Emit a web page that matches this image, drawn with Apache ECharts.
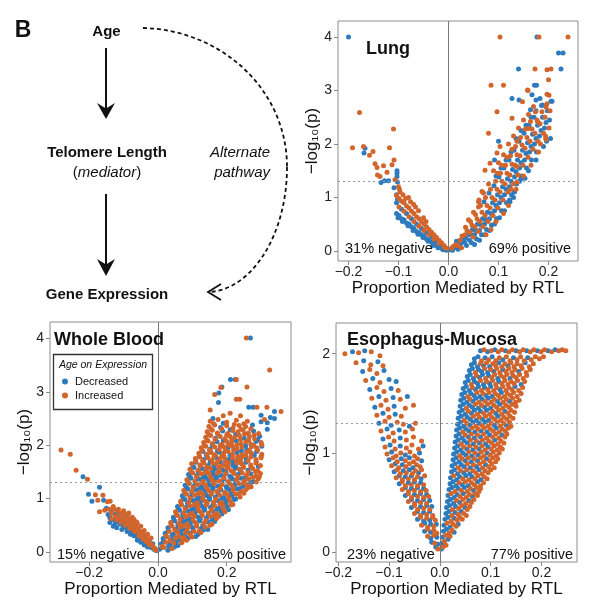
<!DOCTYPE html>
<html><head><meta charset="utf-8">
<script src="https://cdn.jsdelivr.net/npm/echarts@6/dist/echarts.min.js"></script>
<style>html,body{margin:0;padding:0;background:#fff}#c{width:600px;height:614px}</style>
</head><body><div id="c"></div>
<script>
// ---------- DATA ----------
const seriesNames = ['Decreased', 'Increased'];
const panelTitles = ['Lung', 'Whole Blood', 'Esophagus-Mucosa'];
const negLabels = ['31% negative', '15% negative', '23% negative'];
const posLabels = ['69% positive', '85% positive', '77% positive'];
const lungXTicks = [-0.2, -0.1, 0, 0.1, 0.2];
const lungYTicks = [0, 1, 2, 3, 4];
const wbXTicks = [-0.2, 0, 0.2];
const wbYTicks = [0, 1, 2, 3, 4];
const esoXTicks = [-0.2, -0.1, 0, 0.1, 0.2];
const esoYTicks = [0, 1, 2];
const sigLine = 1.301;

const lungDecreased = [
[-.2,4.0],[-.167,1.92],[-.169,1.83],[-.135,1.28],[-.128,1.31],[-.12,1.31],[-.103,1.5],[-.103,1.45],[-.103,1.39],[-.102,1.29],[-.109,1.18],[-.104,1.05],[-.102,.97],
[-.104,.9],[-.104,.7],[-.099,.66],[-.094,.78],[-.094,.6],[-.089,.58],[-.084,.7],[-.084,.52],[-.079,.5],[-.074,.6],[-.074,.45],[-.069,.42],[-.064,.5],[-.064,.36],[-.059,.34],[-.054,.42],[-.054,.3],[-.049,.27],[-.044,.34],[-.044,.22],[-.039,.2],[-.034,.26],[-.034,.16],[-.029,.13],[-.024,.18],[-.024,.1],[-.019,.07],[-.014,.1],[-.014,.05],[-.009,.03],[-.004,.03],[-.004,.01],[-.101,.62],[-.092,.55],[-.081,.47],[-.071,.38],[-.061,.31],[-.051,.25],[-.041,.18],[-.031,.1],[-.021,.06],[-.011,.02],
[.003,.02],[.008,.01],[.012,.06],[.016,.18],[.019,.03],[.022,.09],[.025,.14],[.028,.22],[.032,.16],[.035,.24],[.038,.3],[.036,.1],[.042,.2],[.045,.3],[.048,.4],[.046,.15],[.052,.3],[.055,.38],[.058,.5],[.056,.22],[.062,.38],[.065,.48],[.068,.6],[.066,.3],[.072,.5],[.075,.58],[.078,.72],[.076,.4],[.071,.92],[.082,.6],[.085,.7],[.088,.9],[.086,.48],[.081,1.08],[.092,.75],[.095,.85],[.098,1.05],[.096,.6],[.091,1.22],[.102,.9],[.105,1.0],[.108,1.2],[.106,.75],[.101,1.38],[.112,1.05],[.115,1.15],[.118,1.35],[.116,.9],[.111,1.55],[.122,1.2],[.125,1.3],[.128,1.52],[.126,1.05],[.121,1.7],[.132,1.38],[.135,1.48],[.138,1.7],[.136,1.25],[.131,1.88],[.142,1.55],[.145,1.65],[.148,1.88],[.146,1.4],[.141,2.05],[.152,1.7],[.155,1.82],[.158,2.02],[.156,1.55],[.151,2.2],[.162,1.85],[.165,1.95],[.168,2.18],[.166,1.7],[.161,2.35],[.172,2.0],[.175,2.1],[.178,2.35],[.176,1.85],[.171,2.5],[.182,2.15],[.185,2.25],[.188,2.5],[.186,2.72],[.192,2.3],[.195,2.4],[.198,2.62],[.196,2.05],[.202,2.45],[.205,2.8],[.204,2.1],[.153,1.36],[.123,.92],
[.052,.12],[.062,.2],[.072,.3],[.082,.38],[.092,.5],[.102,.62],[.112,.75],[.122,.95],[.132,1.1],[.142,1.3],[.115,1.7],[.105,1.55],[.095,1.4],[.125,1.85],[.135,2.1],[.145,2.25],[.155,2.35],[.165,2.5],[.175,2.62],[.183,2.85],[.13,1.0],[.145,1.35],[.16,1.5],[.175,1.7],[.19,1.95],
[.177,4.0],[.22,3.7],[.229,3.7],[.225,3.4],[.14,3.4],[.172,3.1],[.176,3.1],[.167,2.92],[.207,2.8],[.127,2.85],[.141,2.82],[.175,2.82],[.188,2.73],[.164,2.64],[.1,2.05],[.092,1.7]
];
const lungIncreased = [
[-.178,2.59],[-.192,1.93],[-.17,1.95],[-.158,1.79],[-.151,1.86],[-.11,2.28],[-.118,1.93],[-.147,1.63],[-.143,1.56],[-.13,1.59],[-.123,1.47],[-.113,1.61],[-.109,1.7],[-.142,1.42],[-.137,1.39],[-.107,1.33],[-.1,1.2],[-.098,1.15],
[-.104,1.04],[-.099,.98],[-.099,.82],[-.094,.93],[-.089,.9],[-.089,.74],[-.084,.84],[-.079,.8],[-.079,.64],[-.074,.74],[-.069,.7],[-.069,.55],[-.064,.64],[-.059,.6],[-.059,.46],[-.054,.54],[-.049,.5],[-.049,.38],[-.044,.45],[-.039,.4],[-.039,.3],[-.034,.35],[-.029,.3],[-.029,.22],[-.024,.25],[-.019,.2],[-.019,.14],[-.014,.15],[-.009,.1],[-.009,.07],[-.004,.05],[-.097,1.1],[-.091,1.05],[-.086,.98],[-.076,.92],[-.066,.82],[-.06,.75],[-.05,.62],[-.045,.55],[-.07,.87],[-.08,1.0],
[.006,.05],[.009,.08],[.014,.12],[.018,.1],[.023,.2],[.027,.28],[.026,.06],[.033,.3],[.037,.38],[.034,.44],[.043,.35],[.047,.48],[.044,.55],[.049,.26],[.053,.45],[.057,.6],[.054,.68],[.059,.36],[.063,.55],[.067,.72],[.064,.85],[.069,.45],[.061,.95],[.073,.66],[.077,.85],[.074,1.0],[.079,.55],[.083,.8],[.087,1.0],[.084,1.15],[.089,.66],[.093,.95],[.097,1.15],[.094,1.3],[.099,.8],[.098,1.45],[.103,1.1],[.107,1.3],[.104,1.45],[.109,.95],[.107,1.6],[.113,1.25],[.117,1.45],[.114,1.6],[.119,1.1],[.117,1.75],[.123,1.42],[.127,1.62],[.124,1.78],[.129,1.25],[.127,1.9],[.133,1.6],[.137,1.8],[.134,1.95],[.139,1.42],[.137,2.05],[.143,1.78],[.147,1.98],[.144,2.12],[.149,1.6],[.153,1.92],[.157,2.12],[.154,2.28],[.159,1.75],[.163,2.05],[.167,2.28],[.164,2.42],[.169,1.9],[.173,2.2],[.177,2.45],[.174,2.6],[.179,2.05],[.183,2.38],[.187,2.6],[.184,2.0],[.193,2.5],[.197,2.75],[.194,2.15],[.203,2.62],[.201,2.3],
[.04,.58],[.05,.72],[.06,.82],[.07,1.08],[.08,1.25],[.09,1.5],[.1,1.65],[.11,1.8],[.12,2.0],[.13,2.15],[.14,2.3],[.15,2.45],[.16,2.55],[.17,2.7],[.11,.7],[.12,.85],[.135,1.15],[.15,1.4],[.165,1.6],[.18,1.85],[.195,2.1],[.125,1.15],[.085,.4],[.095,.55],[.075,.3],
[.103,4.0],[.181,4.0],[.239,4.0],[.173,3.4],[.205,3.4],[.085,3.1],[.11,3.1],[.2,3.2],[.159,3.0],[.197,2.93],[.201,2.91],[.148,2.79],[.195,2.69],[.097,2.6],[.16,2.29],[.08,2.2],[.127,2.48],[.19,2.2],[.195,2.09],[.178,2.42],[.103,1.95],[.097,1.83],[.083,1.64],[.073,1.51],[.137,1.58],[.137,1.29],[.067,1.11],[.06,.92],[.197,3.39],[.158,3.01]
];

const wbDecreased = [
[-.218,1.41],[-.17,1.21],[-.202,1.08],[-.192,.95],[-.158,.97],[-.15,.82],[-.145,.7],[-.14,.64],[-.135,.77],[-.13,.6],[-.125,.7],[-.12,.57],[-.115,.66],[-.11,.52],[-.105,.62],[-.1,.49],[-.096,.57],[-.092,.45],[-.088,.53],[-.084,.41],[-.08,.48],[-.076,.37],[-.072,.44],[-.068,.32],[-.064,.38],[-.06,.28],[-.056,.33],[-.052,.23],[-.048,.29],[-.044,.19],[-.04,.24],[-.036,.15],[-.032,.2],[-.028,.12],[-.024,.15],[-.02,.08],[-.016,.1],[-.012,.05],[-.008,.06],[-.004,.02],[-.09,.66],[-.075,.56],[-.065,.46],[-.1,.72],[-.118,.74],[-.11,.6],
[-.13,.48],[-.12,.45],[-.105,.42],[-.09,.38],[-.08,.33],[-.07,.3],[-.06,.22],[-.05,.18],[-.04,.13],[-.03,.09],[-.14,.55],[-.125,.52],[-.095,.47],[-.085,.6],[-.075,.5],[-.06,.42],[-.048,.36],[-.035,.3],[-.025,.22],[-.015,.15],
[.005,.05],[.029,.03],[.01,.15],[.034,.13],[.058,.12],[.015,.25],[.039,.23],[.063,.22],[.087,.25],[.021,.35],[.045,.33],[.069,.32],[.093,.35],[.117,.33],[.029,.45],[.053,.43],[.077,.42],[.101,.45],[.125,.43],[.145,.42],
[.049,.58],[.073,.565],[.097,.57],[.121,.58],[.145,.565],[.165,.57],[.045,.65],[.069,.63],[.093,.62],[.117,.65],[.141,.63],[.165,.62],[.063,.78],[.087,.765],[.111,.77],[.135,.78],[.159,.765],[.183,.77],
[.057,.85],[.081,.83],[.105,.82],[.129,.85],[.153,.83],[.177,.82],[.201,.85],[.078,.98],[.102,.965],[.126,.97],[.15,.98],[.174,.965],[.198,.97],[.222,.98],
[.071,1.05],[.095,1.03],[.119,1.02],[.143,1.05],[.167,1.03],[.191,1.02],[.215,1.05],[.087,1.18],[.111,1.165],[.135,1.17],[.159,1.18],[.183,1.165],[.207,1.17],[.231,1.18],
[.079,1.25],[.103,1.23],[.127,1.22],[.151,1.25],[.175,1.23],[.199,1.22],[.223,1.25],[.247,1.23],[.096,1.38],[.12,1.365],[.144,1.37],[.168,1.38],[.192,1.365],[.216,1.37],[.24,1.38],[.278,1.32],
[.089,1.45],[.113,1.43],[.137,1.42],[.161,1.45],[.185,1.43],[.209,1.42],[.233,1.45],[.27,1.465],[.105,1.58],[.129,1.565],[.165,1.55],[.189,1.53],[.225,1.57],[.262,1.53],
[.11,1.68],[.146,1.62],[.182,1.68],[.218,1.62],[.256,1.68],[.133,1.73],[.169,1.77],[.205,1.73],[.256,1.75],[.131,1.88],[.179,1.87],[.23,1.865],[.287,1.88],
[.152,1.93],[.204,1.95],[.258,1.92],[.302,1.98],[.172,2.065],[.228,2.08],[.285,2.07],[.167,2.13],[.251,2.13],[.296,2.17],[.188,2.265],[.278,2.265],[.182,2.33],[.275,2.38],[.3,2.44],[.318,2.42],
[.031,.11],[.048,.09],[.016,.2],[.052,.19],[.041,.31],[.079,.3],[.11,.29],[.03,.4],[.066,.39],[.103,.4],[.132,.41],[.058,.51],[.094,.5],[.13,.49],[.046,.6],[.083,.59],[.123,.61],[.158,.6],
[.072,.71],[.108,.7],[.146,.69],[.186,.71],[.06,.8],[.098,.79],[.136,.81],[.172,.8],[.205,.79],[.086,.91],[.123,.9],[.16,.89],[.197,.91],[.074,1.0],[.113,.99],[.15,1.01],[.186,1.0],[.226,.99],
[.098,1.11],[.137,1.1],[.175,1.09],[.213,1.11],[.083,1.2],[.122,1.19],[.161,1.21],[.2,1.2],[.239,1.19],[.108,1.31],[.148,1.3],[.186,1.29],[.226,1.31],[.27,1.3],
[.093,1.4],[.132,1.39],[.172,1.41],[.212,1.4],[.252,1.39],[.117,1.51],[.158,1.5],[.198,1.49],[.24,1.51],[.102,1.6],[.163,1.6],[.226,1.6],[.292,1.6],[.152,1.69],[.218,1.69],[.141,1.81],[.21,1.81],[.28,1.81],
[.173,1.89],[.243,1.89],[.158,2.01],[.255,1.99],[.19,2.09],[.29,2.1],[.226,2.2],[.21,2.29],[.19,2.41],
[.269,4.01],[.211,3.23],[.225,3.23],[.186,3.09],[.177,2.98],[.176,2.8],[.264,2.71],[.277,2.71],[.339,2.63],[.327,2.52],[.339,2.5],[.16,2.5],[.318,2.3],[.3,2.56]
];
const wbIncreased = [
[-.282,1.91],[-.255,1.83],[-.238,1.53],[-.205,1.36],[-.182,1.07],[-.175,.97],[-.16,1.06],[-.17,.75],[-.147,.94],[-.139,.95],[-.155,.78],[-.142,.8],[-.135,.72],[-.128,.8],[-.122,.67],[-.117,.76],[-.112,.64],[-.107,.72],[-.102,.6],[-.098,.69],[-.094,.57],[-.09,.63],[-.086,.53],[-.082,.59],[-.078,.48],[-.074,.54],[-.07,.43],[-.066,.49],[-.062,.39],[-.058,.43],[-.054,.34],[-.05,.38],[-.046,.28],[-.042,.32],[-.038,.23],[-.034,.26],[-.03,.18],[-.026,.2],[-.022,.13],[-.018,.14],[-.014,.09],[-.01,.07],[-.006,.03],[-.085,.73],[-.07,.61],[-.06,.53],
[-.135,.62],[-.12,.6],[-.108,.55],[-.095,.5],[-.082,.44],[-.068,.38],[-.055,.3],[-.045,.25],[-.035,.2],[-.025,.14],[-.13,.85],[-.115,.8],[-.1,.77],[-.088,.7],[-.075,.65],[-.062,.56],[-.05,.48],[-.04,.4],[-.03,.33],[-.02,.26],
[.017,.08],[.041,.065],[.022,.18],[.046,.165],[.069,.17],[.027,.28],[.051,.265],[.075,.27],[.099,.28],[.033,.38],[.057,.365],[.081,.37],[.105,.38],[.125,.365],[.041,.48],[.065,.465],[.089,.47],[.113,.48],[.137,.465],
[.037,.55],[.061,.53],[.085,.52],[.109,.55],[.133,.53],[.157,.52],[.057,.68],[.081,.665],[.105,.67],[.129,.68],[.153,.665],[.177,.67],[.051,.75],[.075,.73],[.099,.72],[.123,.75],[.147,.73],[.171,.72],[.195,.75],
[.069,.88],[.093,.865],[.117,.87],[.141,.88],[.165,.865],[.189,.87],[.213,.88],[.066,.95],[.09,.93],[.114,.92],[.138,.95],[.162,.93],[.186,.92],[.21,.95],
[.083,1.08],[.107,1.065],[.131,1.07],[.155,1.08],[.179,1.065],[.203,1.07],[.227,1.08],[.239,1.03],[.075,1.15],[.099,1.13],[.123,1.12],[.147,1.15],[.171,1.13],[.195,1.12],[.219,1.15],[.243,1.13],[.255,1.165],
[.091,1.28],[.115,1.265],[.139,1.27],[.163,1.28],[.187,1.265],[.211,1.27],[.235,1.28],[.259,1.265],[.271,1.22],[.084,1.35],[.108,1.33],[.132,1.32],[.156,1.35],[.18,1.33],[.204,1.32],[.228,1.35],[.252,1.33],[.264,1.365],[.292,1.37],
[.101,1.48],[.125,1.465],[.149,1.47],[.173,1.48],[.197,1.465],[.221,1.47],[.245,1.48],[.257,1.43],[.285,1.42],[.298,1.47],[.093,1.55],[.117,1.53],[.141,1.52],[.153,1.57],[.177,1.58],[.201,1.565],[.213,1.52],[.237,1.55],[.249,1.58],[.276,1.565],[.29,1.52],
[.098,1.65],[.122,1.63],[.134,1.665],[.158,1.67],[.17,1.65],[.194,1.63],[.206,1.665],[.23,1.67],[.243,1.65],[.27,1.63],[.285,1.665],[.298,1.62],
[.109,1.75],[.121,1.78],[.145,1.765],[.157,1.72],[.181,1.75],[.193,1.78],[.217,1.765],[.229,1.72],[.242,1.77],[.27,1.78],[.285,1.73],[.3,1.765],
[.119,1.85],[.143,1.83],[.155,1.865],[.167,1.82],[.191,1.85],[.204,1.88],[.217,1.83],[.244,1.82],[.258,1.87],[.272,1.85],[.302,1.83],
[.126,1.95],[.139,1.98],[.165,1.965],[.178,1.92],[.191,1.97],[.217,1.98],[.23,1.93],[.244,1.965],[.272,1.97],[.287,1.95],
[.133,2.05],[.146,2.08],[.159,2.03],[.186,2.02],[.2,2.07],[.214,2.05],[.242,2.03],[.256,2.065],[.27,2.02],[.3,2.05],
[.139,2.15],[.153,2.18],[.181,2.165],[.195,2.12],[.209,2.17],[.223,2.15],[.237,2.18],[.266,2.165],[.281,2.12],
[.143,2.25],[.158,2.28],[.173,2.23],[.203,2.22],[.218,2.27],[.233,2.25],[.248,2.28],[.263,2.23],[.293,2.22],
[.148,2.35],[.165,2.38],[.2,2.365],[.218,2.32],[.236,2.37],[.255,2.35],[.152,2.45],[.175,2.48],[.2,2.43],[.228,2.47],[.26,2.45],
[.012,.1],[.035,.21],[.07,.2],[.083,.22],[.023,.3],[.06,.29],[.094,.32],[.049,.41],[.085,.41],[.12,.39],[.038,.5],[.074,.49],[.112,.51],[.151,.5],[.065,.61],[.102,.6],[.139,.59],[.17,.62],
[.054,.7],[.091,.69],[.128,.71],[.164,.7],[.079,.81],[.116,.8],[.156,.79],[.19,.81],[.067,.9],[.106,.89],[.143,.91],[.18,.9],[.218,.89],[.093,1.01],[.13,1.0],[.169,.99],[.207,1.01],
[.079,1.1],[.117,1.09],[.156,1.11],[.194,1.1],[.235,1.09],[.25,1.1],[.102,1.21],[.141,1.2],[.18,1.19],[.218,1.21],[.262,1.2],[.088,1.3],[.127,1.29],[.167,1.31],[.207,1.3],[.248,1.29],[.286,1.31],
[.112,1.41],[.153,1.4],[.192,1.39],[.232,1.41],[.276,1.4],[.295,1.41],[.097,1.5],[.137,1.49],[.179,1.51],[.219,1.5],[.262,1.49],[.284,1.5],[.123,1.61],[.142,1.59],[.185,1.61],[.204,1.59],[.248,1.61],[.27,1.59],
[.11,1.7],[.13,1.71],[.174,1.7],[.196,1.71],[.24,1.7],[.262,1.71],[.286,1.69],[.12,1.8],[.163,1.79],[.186,1.8],[.232,1.79],[.255,1.8],[.3,1.79],[.128,1.9],[.15,1.91],[.196,1.9],[.22,1.91],[.266,1.9],[.29,1.91],
[.135,2.0],[.181,1.99],[.205,2.0],[.23,2.01],[.278,2.0],[.302,2.01],[.142,2.1],[.166,2.11],[.215,2.1],[.24,2.11],[.264,2.09],[.148,2.2],[.174,2.21],[.2,2.19],[.252,2.21],[.28,2.19],[.155,2.3],[.185,2.31],[.242,2.3],[.27,2.31],[.162,2.4],[.222,2.39],[.25,2.4],
[.257,4.01],[.325,3.41],[.228,3.23],[.183,3.08],[.259,3.09],[.228,2.86],[.238,2.86],[.288,2.71],[.317,2.71],[.358,2.63],[.165,2.95],[.21,2.6],[.152,2.66],[.19,2.55],[.24,2.55],[.31,2.48]
];

const esoDecreased = [
[-.008,.05],[-.016,.1],[-.004,.08],[-.018,.14],[-.006,.15],[-.03,.21],[-.018,.2],[-.03,.29],[-.018,.28],[-.007,.28],[-.044,.33],[-.032,.31],[-.02,.32],[-.044,.41],[-.032,.4],[-.02,.41],[-.056,.45],[-.038,.46],[-.026,.47],[-.016,.46],[-.056,.53],[-.044,.52],[-.032,.53],[-.02,.52],[-.068,.57],[-.05,.58],[-.038,.59],[-.026,.58],[-.068,.65],[-.056,.64],[-.044,.65],[-.032,.64],[-.08,.69],[-.062,.7],[-.05,.71],[-.038,.7],[-.08,.77],[-.068,.76],[-.056,.77],[-.037,.74],[-.09,.81],[-.072,.82],[-.06,.83],[-.042,.8],[-.088,.89],[-.074,.88],[-.053,.85],[-.1,.93],[-.076,.94],[-.06,.95],[-.036,.92],[-.095,1.01],[-.068,.98],[-.04,1.0],[-.098,1.08],[-.078,1.07],[-.033,1.07],[-.112,1.14],[-.078,1.15],[-.104,1.24],[-.08,1.23],[-.12,1.3],[-.096,1.28],[-.06,1.27],[-.112,1.4],[-.088,1.39],[-.128,1.46],[-.09,1.47],[-.12,1.57],[-.092,1.56],[-.064,1.57],[-.138,1.64],[-.096,1.65],[-.132,1.75],[-.1,1.74],[-.086,1.72],[-.152,1.82],[-.11,1.83],[-.15,1.93],[-.122,1.92],[-.172,2.02],[-.148,2.03],
[.003,.03],[.004,.09],[.005,.15],[.016,.13],[.007,.21],[.013,.23],[.028,.2],[.008,.27],[.02,.25],[.036,.28],[.01,.33],[.016,.35],[.028,.34],[.012,.39],[.018,.41],[.03,.4],[.042,.41],[.013,.45],[.019,.47],[.031,.46],[.049,.45],
[.015,.51],[.021,.53],[.027,.49],[.039,.5],[.057,.52],[.016,.57],[.028,.55],[.034,.58],[.046,.59],[.064,.56],[.018,.63],[.024,.65],[.036,.64],[.048,.65],[.066,.62],[.02,.69],[.026,.71],[.032,.67],[.044,.68],[.056,.67],[.074,.71],
[.021,.75],[.033,.73],[.039,.76],[.051,.77],[.063,.76],[.081,.73],[.023,.81],[.029,.83],[.035,.79],[.047,.8],[.059,.79],[.077,.83],[.024,.87],[.03,.89],[.042,.88],[.048,.86],[.06,.85],[.072,.86],[.09,.88],
[.026,.93],[.032,.95],[.038,.91],[.05,.92],[.062,.91],[.074,.92],[.092,.94],[.027,.99],[.033,1.01],[.045,1.0],[.051,.98],[.063,.97],[.075,.98],[.093,1.0],[.029,1.05],[.035,1.07],[.041,1.03],[.053,1.04],[.065,1.03],[.077,1.04],[.095,1.06],
[.03,1.11],[.036,1.13],[.048,1.12],[.054,1.1],[.066,1.09],[.078,1.1],[.09,1.09],[.108,1.13],[.032,1.17],[.038,1.19],[.044,1.15],[.056,1.16],[.068,1.15],[.08,1.16],[.098,1.18],[.122,1.18],
[.033,1.23],[.039,1.25],[.051,1.24],[.057,1.22],[.069,1.21],[.081,1.22],[.093,1.21],[.111,1.25],[.035,1.29],[.041,1.31],[.047,1.27],[.059,1.28],[.065,1.31],[.077,1.3],[.089,1.31],[.107,1.28],[.131,1.28],
[.036,1.35],[.042,1.37],[.054,1.36],[.06,1.34],[.072,1.33],[.084,1.34],[.096,1.33],[.114,1.37],[.038,1.41],[.044,1.43],[.05,1.39],[.062,1.4],[.068,1.43],[.08,1.42],[.092,1.43],[.11,1.4],[.128,1.42],
[.04,1.47],[.046,1.49],[.058,1.48],[.064,1.46],[.076,1.45],[.088,1.46],[.1,1.45],[.118,1.49],[.041,1.53],[.047,1.55],[.053,1.51],[.065,1.52],[.071,1.55],[.083,1.54],[.095,1.55],[.113,1.52],[.137,1.52],
[.043,1.59],[.049,1.61],[.061,1.6],[.067,1.58],[.079,1.57],[.091,1.58],[.103,1.57],[.121,1.61],[.046,1.65],[.052,1.67],[.058,1.63],[.07,1.64],[.076,1.67],[.088,1.66],[.1,1.67],[.118,1.64],[.148,1.67],
[.05,1.71],[.056,1.73],[.068,1.72],[.074,1.7],[.086,1.69],[.098,1.7],[.116,1.72],[.16,1.69],[.054,1.77],[.06,1.79],[.066,1.75],[.078,1.76],[.084,1.79],[.096,1.78],[.114,1.75],[.138,1.75],
[.058,1.83],[.064,1.85],[.076,1.84],[.082,1.82],[.094,1.81],[.106,1.82],[.124,1.84],[.155,1.82],[.062,1.89],[.068,1.91],[.074,1.87],[.086,1.88],[.098,1.87],[.116,1.91],[.134,1.88],[.168,1.91],
[.068,1.95],[.075,1.97],[.089,1.96],[.103,1.97],[.124,1.94],[.145,1.96],[.173,1.96],[.08,2.03],[.094,2.02],[.108,2.04],[.129,2.03],[.15,2.03],[.171,2.03],[.192,2.03],[.213,2.03],[.227,2.04]
];
const esoIncreased = [
[-.004,.03],[-.01,.09],[-.024,.16],[-.012,.17],[-.024,.23],[-.012,.22],[-.006,.19],[-.036,.27],[-.024,.25],[-.012,.26],[-.038,.35],[-.026,.34],[-.014,.35],[-.009,.32],[-.05,.39],[-.038,.37],[-.026,.38],[-.014,.37],[-.05,.47],[-.044,.43],[-.032,.44],[-.02,.43],[-.062,.51],[-.05,.49],[-.038,.5],[-.026,.49],[-.062,.59],[-.056,.55],[-.044,.56],[-.032,.55],[-.022,.56],[-.074,.63],[-.062,.61],[-.05,.62],[-.038,.61],[-.027,.62],[-.074,.71],[-.068,.67],[-.056,.68],[-.044,.67],[-.032,.68],[-.086,.75],[-.074,.73],[-.062,.74],[-.05,.73],[-.044,.76],[-.03,.77],[-.084,.83],[-.078,.79],[-.066,.8],[-.054,.79],[-.048,.82],[-.036,.83],[-.095,.87],[-.081,.85],[-.067,.86],[-.06,.89],[-.046,.88],[-.039,.86],[-.092,.95],[-.084,.91],[-.068,.92],[-.052,.91],[-.044,.94],[-.104,.99],[-.086,.97],[-.077,1.0],[-.059,1.01],[-.05,.97],[-.108,1.06],[-.088,1.04],[-.066,1.05],[-.055,1.08],[-.042,1.04],[-.101,1.16],[-.09,1.12],[-.066,1.13],[-.052,1.16],[-.036,1.12],[-.116,1.22],[-.092,1.2],[-.068,1.21],[-.054,1.24],[-.108,1.32],[-.084,1.31],[-.072,1.29],[-.048,1.3],[-.124,1.38],[-.1,1.36],[-.076,1.37],[-.116,1.48],[-.102,1.44],[-.068,1.45],[-.052,1.48],[-.134,1.55],[-.106,1.53],[-.078,1.54],[-.124,1.66],[-.11,1.62],[-.082,1.63],[-.146,1.73],[-.118,1.71],[-.138,1.84],[-.124,1.8],[-.165,1.91],[-.136,1.89],[-.112,1.88],[-.187,2.0],[-.16,2.01],[-.135,2.02],[-.118,1.98],
[.006,.05],[.009,.11],[.012,.07],[.011,.17],[.02,.16],[.018,.19],[.024,.22],[.014,.29],[.026,.28],[.032,.26],[.022,.31],[.034,.32],[.039,.35],[.044,.33],[.024,.37],[.036,.38],[.047,.39],[.052,.37],[.025,.43],[.037,.44],[.043,.47],[.054,.43],[.059,.46],
[.033,.52],[.045,.53],[.051,.49],[.062,.5],[.067,.53],[.022,.59],[.04,.56],[.052,.55],[.058,.58],[.069,.59],[.074,.57],[.03,.61],[.042,.62],[.054,.61],[.06,.64],[.072,.65],[.077,.61],[.08,.64],[.038,.7],[.05,.71],[.062,.7],[.068,.68],[.08,.67],[.086,.7],
[.027,.77],[.045,.74],[.057,.73],[.069,.74],[.075,.77],[.087,.76],[.093,.74],[.041,.82],[.053,.83],[.065,.82],[.071,.8],[.083,.79],[.089,.82],[.095,.8],[.1,.83],[.036,.85],[.054,.89],[.066,.88],[.078,.89],[.084,.85],[.096,.86],[.102,.89],[.107,.85],
[.044,.94],[.056,.95],[.068,.94],[.08,.95],[.086,.91],[.098,.92],[.104,.95],[.11,.91],[.114,.94],[.039,.97],[.057,1.01],[.069,1.0],[.081,1.01],[.087,.97],[.099,.98],[.105,1.01],[.111,.97],[.117,1.0],
[.047,1.06],[.059,1.07],[.071,1.06],[.083,1.07],[.089,1.03],[.101,1.04],[.107,1.07],[.113,1.03],[.119,1.06],[.123,1.04],[.042,1.09],[.06,1.13],[.072,1.12],[.084,1.13],[.096,1.12],[.102,1.1],[.114,1.09],[.12,1.12],[.126,1.1],
[.05,1.18],[.062,1.19],[.074,1.18],[.086,1.19],[.092,1.15],[.104,1.16],[.11,1.19],[.116,1.15],[.128,1.16],[.132,1.19],[.045,1.21],[.063,1.25],[.075,1.24],[.087,1.25],[.099,1.24],[.105,1.22],[.117,1.21],[.123,1.24],[.129,1.22],[.135,1.25],
[.053,1.3],[.071,1.27],[.083,1.28],[.095,1.27],[.101,1.3],[.113,1.31],[.119,1.27],[.125,1.3],[.137,1.31],[.14,1.27],[.048,1.33],[.066,1.37],[.078,1.36],[.09,1.37],[.102,1.36],[.108,1.34],[.12,1.33],[.126,1.36],[.132,1.34],[.138,1.37],[.144,1.35],
[.056,1.42],[.074,1.39],[.086,1.4],[.098,1.39],[.104,1.42],[.116,1.43],[.122,1.39],[.134,1.4],[.14,1.43],[.147,1.41],[.052,1.45],[.07,1.49],[.082,1.48],[.094,1.49],[.106,1.48],[.112,1.46],[.124,1.45],[.13,1.48],[.136,1.46],[.142,1.49],[.15,1.47],
[.059,1.54],[.077,1.51],[.089,1.52],[.101,1.51],[.107,1.54],[.119,1.55],[.125,1.51],[.131,1.54],[.143,1.55],[.149,1.51],[.156,1.53],[.055,1.57],[.073,1.61],[.085,1.6],[.097,1.61],[.109,1.6],[.115,1.58],[.127,1.57],[.133,1.6],[.139,1.58],[.145,1.61],[.152,1.57],[.16,1.6],
[.064,1.66],[.082,1.63],[.094,1.64],[.106,1.63],[.112,1.66],[.124,1.67],[.13,1.63],[.136,1.66],[.142,1.64],[.155,1.63],[.163,1.66],[.062,1.69],[.08,1.73],[.092,1.72],[.104,1.73],[.11,1.69],[.122,1.7],[.128,1.73],[.134,1.69],[.14,1.72],[.146,1.7],[.153,1.73],[.167,1.72],
[.072,1.78],[.09,1.75],[.102,1.76],[.108,1.79],[.12,1.78],[.126,1.76],[.132,1.79],[.144,1.78],[.15,1.76],[.157,1.79],[.164,1.75],[.171,1.78],[.07,1.81],[.088,1.85],[.1,1.84],[.112,1.85],[.118,1.81],[.13,1.82],[.136,1.85],[.142,1.81],[.148,1.84],[.162,1.85],[.17,1.81],[.178,1.84],
[.08,1.9],[.092,1.91],[.104,1.9],[.11,1.88],[.122,1.87],[.128,1.9],[.14,1.91],[.146,1.87],[.152,1.9],[.16,1.88],[.176,1.87],[.184,1.9],[.082,1.93],[.096,1.94],[.11,1.93],[.117,1.96],[.131,1.97],[.138,1.93],[.152,1.94],[.159,1.97],[.166,1.93],[.18,1.94],[.188,1.97],[.196,1.95],[.204,1.97],
[.087,2.04],[.101,2.03],[.115,2.02],[.122,2.04],[.136,2.02],[.143,2.04],[.157,2.02],[.164,2.04],[.178,2.02],[.185,2.04],[.199,2.02],[.206,2.04],[.22,2.02],[.234,2.03],[.241,2.04],[.248,2.03]
];

// ---------- CHART ----------
const FF = '"Liberation Sans", Arial, Helvetica, sans-serif';
const BLUE = '#2d7bbd', ORANGE = '#d1652c';
const fmtX = v => (v < 0 ? '\u2212' : '') + Math.abs(v).toFixed(1);
const fmtY = v => String(v);

const grids = [
  {left: 338, top: 21, width: 240, height: 240},
  {left: 50, top: 322, width: 241, height: 240},
  {left: 336, top: 323, width: 241, height: 239}
];
const xRanges = [[-0.221, 0.259], [-0.314, 0.387], [-0.2045, 0.270]];
const yRanges = [[-0.19, 4.3], [-0.19, 4.31], [-0.10, 2.31]];
const xTickSets = [lungXTicks, wbXTicks, esoXTicks];
const yTickSets = [lungYTicks, wbYTicks, esoYTicks];
const panelData = [[lungDecreased, lungIncreased], [wbDecreased, wbIncreased], [esoDecreased, esoIncreased]];

const xAxes = grids.map((g, i) => ({
  type: 'value', gridIndex: i, min: xRanges[i][0], max: xRanges[i][1],
  name: 'Proportion Mediated by RTL', nameLocation: 'middle', nameGap: 14,
  nameTextStyle: {fontSize: 17, color: '#111', fontFamily: FF},
  axisLine: {show: false, onZero: false},
  axisTick: {show: true, length: 4, lineStyle: {color: '#888'}, customValues: xTickSets[i]},
  axisLabel: {customValues: xTickSets[i], formatter: fmtX, fontSize: 14, color: '#222', margin: 4, fontFamily: FF},
  splitLine: {show: false}
}));
const yAxes = grids.map((g, i) => ({
  type: 'value', gridIndex: i, min: yRanges[i][0], max: yRanges[i][1],
  name: '\u2212log\u2081\u2080(p)', nameLocation: 'middle', nameGap: 17, nameRotate: 90,
  nameTextStyle: {fontSize: 17, color: '#111', fontFamily: FF},
  axisLine: {show: false, onZero: false},
  axisTick: {show: true, length: 4, lineStyle: {color: '#888'}, customValues: yTickSets[i]},
  axisLabel: {customValues: yTickSets[i], formatter: fmtY, fontSize: 14, color: '#222', margin: 6, fontFamily: FF},
  splitLine: {show: false}
}));

const series = [];
panelData.forEach((pair, i) => {
  pair.forEach((data, k) => {
    const s = {
      type: 'scatter', name: seriesNames[k], xAxisIndex: i, yAxisIndex: i, data: data,
      symbolSize: 5, itemStyle: {color: k === 0 ? BLUE : ORANGE, opacity: 1},
      silent: true, z: 2, large: false
    };
    if (k === 0) {
      s.markLine = {
        silent: true, symbol: ['none', 'none'], label: {show: false},
        data: [
          {xAxis: 0, lineStyle: {color: '#777', width: 1, type: 'solid'}},
          {yAxis: sigLine, lineStyle: {color: '#999', width: 1, type: [2, 3]}}
        ]
      };
    }
    series.push(s);
  });
});

const txt = (x, y, text, opts) => ({
  type: 'text', z: 50,
  style: Object.assign({x: x, y: y, text: text, fill: '#111', font: '14px ' + FF,
    align: 'left', verticalAlign: 'middle', textAlign: 'left', textVerticalAlign: 'middle'}, opts || {})
});
const center = {align: 'center', textAlign: 'center'};
const right = {align: 'right', textAlign: 'right'};

const graphics = [
  txt(23, 31, 'B', Object.assign({font: 'bold 23px ' + FF}, center)),
  txt(106.5, 32, 'Age', Object.assign({font: 'bold 15px ' + FF}, center)),
  txt(107, 153, 'Telomere Length', Object.assign({font: 'bold 15px ' + FF}, center)),
  {type: 'text', z: 50, style: {x: 107, y: 173, text: '{n|(}{i|mediator}{n|)}', align: 'center', verticalAlign: 'middle', textAlign: 'center', textVerticalAlign: 'middle',
    rich: {n: {font: '15px ' + FF, fill: '#111'}, i: {font: 'italic 15px ' + FF, fill: '#111'}}}},
  txt(107, 295, 'Gene Expression', Object.assign({font: 'bold 15px ' + FF}, center)),
  txt(270, 153, 'Alternate', Object.assign({font: 'italic 15px ' + FF}, right)),
  txt(270, 173, 'pathway', Object.assign({font: 'italic 15px ' + FF}, right)),
  {type: 'line', z: 50, shape: {x1: 106, y1: 48, x2: 106, y2: 112}, style: {stroke: '#111', lineWidth: 2}},
  {type: 'polygon', z: 50, shape: {points: [[106, 119], [97, 103], [106, 108.5], [115, 103]]}, style: {fill: '#111'}},
  {type: 'line', z: 50, shape: {x1: 106, y1: 194, x2: 106, y2: 269}, style: {stroke: '#111', lineWidth: 2}},
  {type: 'polygon', z: 50, shape: {points: [[106, 276], [97, 259], [106, 264.5], [115, 259]]}, style: {fill: '#111'}},
  {type: 'bezierCurve', z: 50, shape: {x1: 143, y1: 28, cpx1: 222, cpy1: 30, cpx2: 287, cpy2: 90, x2: 287, y2: 167},
    style: {stroke: '#111', lineWidth: 1.8, lineDash: [4, 3], fill: null}},
  {type: 'bezierCurve', z: 50, shape: {x1: 287, y1: 167, cpx1: 287, cpy1: 236, cpx2: 251, cpy2: 290, x2: 209, y2: 292},
    style: {stroke: '#111', lineWidth: 1.8, lineDash: [4, 3], fill: null}},
  {type: 'polyline', z: 50, shape: {points: [[221, 284], [208, 292], [221, 300]]}, style: {stroke: '#111', lineWidth: 1.8, fill: null}},
  txt(388, 49, panelTitles[0], Object.assign({font: 'bold 18px ' + FF}, center)),
  txt(54, 340, panelTitles[1], {font: 'bold 18px ' + FF}),
  txt(347, 340, panelTitles[2], {font: 'bold 18px ' + FF}),
  txt(345, 249, negLabels[0], {font: '14.5px ' + FF}),
  txt(571, 249, posLabels[0], Object.assign({font: '14.5px ' + FF}, right)),
  txt(57, 555, negLabels[1], {font: '14.5px ' + FF}),
  txt(286, 555, posLabels[1], Object.assign({font: '14.5px ' + FF}, right)),
  txt(347, 555, negLabels[2], {font: '14.5px ' + FF}),
  txt(573, 555, posLabels[2], Object.assign({font: '14.5px ' + FF}, right)),
  {type: 'rect', z: 3, shape: {x: 53.5, y: 354.5, width: 99, height: 55}, style: {fill: '#fff', stroke: '#333', lineWidth: 1.3}},
  txt(103, 365, 'Age on Expression', Object.assign({font: 'italic 10.5px ' + FF}, center))
];

const chart = echarts.init(document.getElementById('c'), null, {renderer: 'canvas'});
chart.setOption({
  animation: false,
  backgroundColor: '#fff',
  textStyle: {fontFamily: FF},
  grid: grids.map(g => Object.assign({show: true, borderColor: '#8c8c8c', borderWidth: 1, backgroundColor: 'transparent', outerBoundsMode: 'none', containLabel: false}, g)),
  xAxis: xAxes,
  yAxis: yAxes,
  legend: {
    data: seriesNames, orient: 'vertical', left: 62, top: 376, padding: 0,
    itemWidth: 10, itemHeight: 6, itemGap: 3, icon: 'circle', selectedMode: false, z: 5,
    textStyle: {fontSize: 11, color: '#111', fontFamily: FF}
  },
  graphic: {elements: graphics},
  series: series
});
</script></body></html>
